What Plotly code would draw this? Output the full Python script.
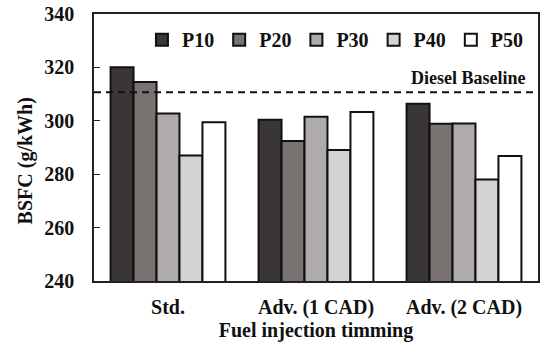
import plotly.graph_objects as go

categories = ["Std.", "Adv. (1 CAD)", "Adv. (2 CAD)"]
series_names = ["P10", "P20", "P30", "P40", "P50"]
p10 = [320.1, 300.4, 306.4]
p20 = [314.5, 292.4, 298.9]
p30 = [302.7, 301.5, 299.0]
p40 = [287.0, 289.1, 278.0]
p50 = [299.5, 303.3, 286.8]
diesel_baseline = 310.7
colors = ["#3b3636", "#787271", "#afabaa", "#d4d2d2", "#ffffff"]

FONT = "Liberation Serif"

fig = go.Figure()
for name, vals, col in zip(series_names, [p10, p20, p30, p40, p50], colors):
    fig.add_trace(go.Bar(
        x=categories, y=vals, name=name,
        marker=dict(color=col, line=dict(color="#111111", width=2)),
    ))

fig.add_shape(type="line", xref="paper", yref="y", x0=0, x1=1,
              y0=diesel_baseline, y1=diesel_baseline,
              line=dict(color="#111111", width=2, dash="7px,5px"), layer="above")
fig.add_annotation(xref="paper", yref="y", x=0.977, y=diesel_baseline,
                   text="Diesel Baseline", showarrow=False,
                   xanchor="right", yanchor="bottom", yshift=2,
                   font=dict(family=FONT, size=18, color="#111111", weight="bold"))
fig.add_annotation(xref="paper", yref="paper", x=0, y=0.448, xshift=-69,
                   text="BSFC (g/kWh)", textangle=-90, showarrow=False,
                   xanchor="center", yanchor="middle",
                   font=dict(family=FONT, size=20, color="#111111", weight="bold"))

fig.update_layout(
    width=541, height=346,
    margin=dict(l=94, r=1, t=14, b=65),
    paper_bgcolor="white", plot_bgcolor="white",
    barmode="group", bargap=0.224, bargroupgap=0,
    font=dict(family=FONT, size=20, color="#111111", weight="bold"),
    showlegend=True,
    legend=dict(orientation="h", x=0.108, xanchor="left", y=0.904, yanchor="middle",
                bgcolor="rgba(0,0,0,0)", font=dict(family=FONT, size=20, weight="bold"),
                itemclick=False),
    xaxis=dict(showline=True, linecolor="#222222", linewidth=1.5, mirror=True,
               ticks="", showgrid=False, ticklabelstandoff=7,
               title=dict(text="Fuel injection timming", standoff=4,
                          font=dict(family=FONT, size=20, weight="bold"))),
    yaxis=dict(range=[240, 340], dtick=20, showline=True, linecolor="#222222",
               linewidth=1.5, mirror=True, ticks="inside", ticklen=6,
               tickcolor="#222222", showgrid=False, zeroline=False,
               ticklabelstandoff=14),
)

fig.write_html("out.html")
